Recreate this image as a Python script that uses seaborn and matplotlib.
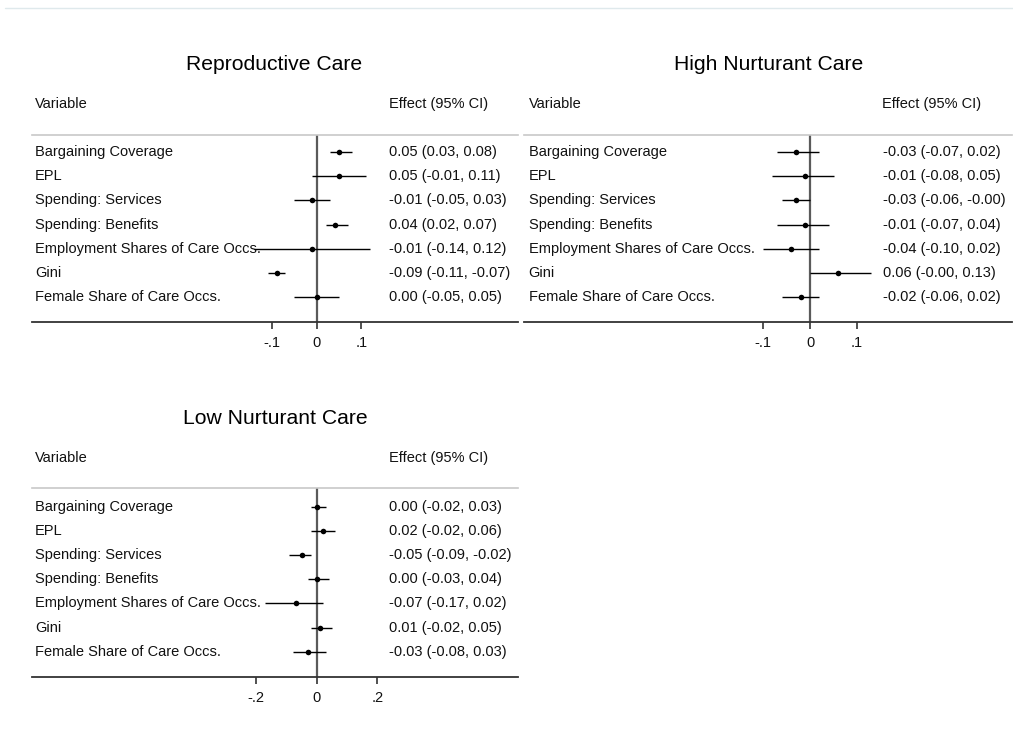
import matplotlib
matplotlib.use("Agg")
import matplotlib.pyplot as plt
import matplotlib.transforms as mtransforms
from matplotlib.lines import Line2D
import seaborn as sns
import pandas as pd

# ---------------- data ----------------
variables = ["Bargaining Coverage", "EPL", "Spending: Services", "Spending: Benefits",
             "Employment Shares of Care Occs.", "Gini", "Female Share of Care Occs."]

panel_titles = ["Reproductive Care", "High Nurturant Care", "Low Nurturant Care"]

repro_est = [0.05, 0.05, -0.01, 0.04, -0.01, -0.09, 0.00]
repro_lo = [0.03, -0.01, -0.05, 0.02, -0.14, -0.11, -0.05]
repro_hi = [0.08, 0.11, 0.03, 0.07, 0.12, -0.07, 0.05]

high_est = [-0.03, -0.01, -0.03, -0.01, -0.04, 0.06, -0.02]
high_lo = [-0.07, -0.08, -0.06, -0.07, -0.10, -0.00, -0.06]
high_hi = [0.02, 0.05, -0.00, 0.04, 0.02, 0.13, 0.02]

low_est = [0.00, 0.02, -0.05, 0.00, -0.07, 0.01, -0.03]
low_lo = [-0.02, -0.02, -0.09, -0.03, -0.17, -0.02, -0.08]
low_hi = [0.03, 0.06, -0.02, 0.04, 0.02, 0.05, 0.03]

tick_vals_1 = [-0.1, 0, 0.1]
tick_labs_1 = ["-.1", "0", ".1"]
tick_vals_3 = [-0.2, 0, 0.2]
tick_labs_3 = ["-.2", "0", ".2"]

# ---------------- style ----------------
sns.set_style("white")
plt.rcParams["font.family"] = ["Liberation Sans", "DejaVu Sans"]

W, H = 1013, 742
fig = plt.figure(figsize=(W / 100, H / 100), dpi=100)

# layout in pixels
layouts = [
    dict(x0=32, x1=518, ytop=135, ybot=321.7, row0=151.7, row6=297.3, zero=316.7, ppu=446,
         title_x=274, title_y=64, head_y=104, lab_x=35, val_x=389),
    dict(x0=524, x1=1012, ytop=135, ybot=321.7, row0=151.7, row6=297.3, zero=810, ppu=470,
         title_x=768.5, title_y=64, head_y=104, lab_x=528.5, val_x=882.5),
    dict(x0=32, x1=518, ytop=488.3, ybot=676.7, row0=506.7, row6=651.7, zero=316.7, ppu=302.5,
         title_x=275.5, title_y=418, head_y=458, lab_x=35, val_x=389),
]

series = [(repro_est, repro_lo, repro_hi, tick_vals_1, tick_labs_1),
          (high_est, high_lo, high_hi, tick_vals_1, tick_labs_1),
          (low_est, low_lo, low_hi, tick_vals_3, tick_labs_3)]

neg_zero_hi = {(1, 2)}   # High Nurturant, Spending: Services upper bound "-0.00"
neg_zero_lo = {(1, 5)}   # High Nurturant, Gini lower bound "-0.00"

FS = 10.5
TXT = "#111111"
for p, (lay, (est, lo, hi, tv, tl)) in enumerate(zip(layouts, series)):
    left = lay["x0"] / W
    width = (lay["x1"] - lay["x0"]) / W
    bottom = 1 - lay["ybot"] / H
    height = (lay["ybot"] - lay["ytop"]) / H
    ax = fig.add_axes([left, bottom, width, height])
    ax.set_facecolor("none")

    sp = (lay["row6"] - lay["row0"]) / 6
    ax.set_ylim(6 + (lay["ybot"] - lay["row6"]) / sp, -(lay["row0"] - lay["ytop"]) / sp)
    ax.set_xlim((lay["x0"] - lay["zero"]) / lay["ppu"], (lay["x1"] - lay["zero"]) / lay["ppu"])

    df = pd.DataFrame({"var": variables, "row": range(len(variables)),
                       "est": est, "lo": lo, "hi": hi})

    ax.axvline(0, color="#5a5a5a", lw=1.6, zorder=1)
    ax.hlines(df["row"], df["lo"], df["hi"], color="black", lw=1.0, zorder=2)
    sns.scatterplot(data=df, x="est", y="row", ax=ax, color="black", s=16,
                    edgecolor="black", linewidth=0, zorder=3, legend=False)

    # spines
    for side in ["left", "right"]:
        ax.spines[side].set_visible(False)
    ax.spines["top"].set_color("#c8c8c8")
    ax.spines["top"].set_linewidth(1.2)
    ax.spines["bottom"].set_color("#333333")
    ax.spines["bottom"].set_linewidth(1.3)

    ax.set_yticks([])
    ax.set_xticks(tv)
    ax.set_xticklabels(tl, fontsize=FS, color=TXT)
    ax.tick_params(axis="x", bottom=True, direction="out", length=5, width=1.2,
                   color="#333333", pad=5)
    ax.set_xlabel("")
    ax.set_ylabel("")

    trans = mtransforms.blended_transform_factory(ax.transAxes, ax.transData)
    lab_ax = (lay["lab_x"] - lay["x0"]) / (lay["x1"] - lay["x0"])
    val_ax = (lay["val_x"] - lay["x0"]) / (lay["x1"] - lay["x0"])
    for i, v in enumerate(variables):
        ax.text(lab_ax, i, v, transform=trans, ha="left", va="center", fontsize=FS,
                color=TXT, zorder=0)
        lo_s = "-0.00" if (p, i) in neg_zero_lo else f"{lo[i]:.2f}"
        hi_s = "-0.00" if (p, i) in neg_zero_hi else f"{hi[i]:.2f}"
        ax.text(val_ax, i, f"{est[i]:.2f} ({lo_s}, {hi_s})", transform=trans,
                ha="left", va="center", fontsize=FS, color=TXT)

    fig.text(lay["title_x"] / W, 1 - lay["title_y"] / H, panel_titles[p],
             ha="center", va="center", fontsize=15.2, color="black")
    fig.text(lay["lab_x"] / W, 1 - lay["head_y"] / H, "Variable",
             ha="left", va="center", fontsize=FS, color=TXT)
    fig.text(lay["val_x"] / W, 1 - lay["head_y"] / H, "Effect (95% CI)",
             ha="left", va="center", fontsize=FS, color=TXT)

fig.add_artist(Line2D([5 / W, 1.0], [1 - 8 / H, 1 - 8 / H], color="#dfe9ec", lw=1.0,
                      transform=fig.transFigure))

fig.savefig("out.png", dpi=100, facecolor="white")
